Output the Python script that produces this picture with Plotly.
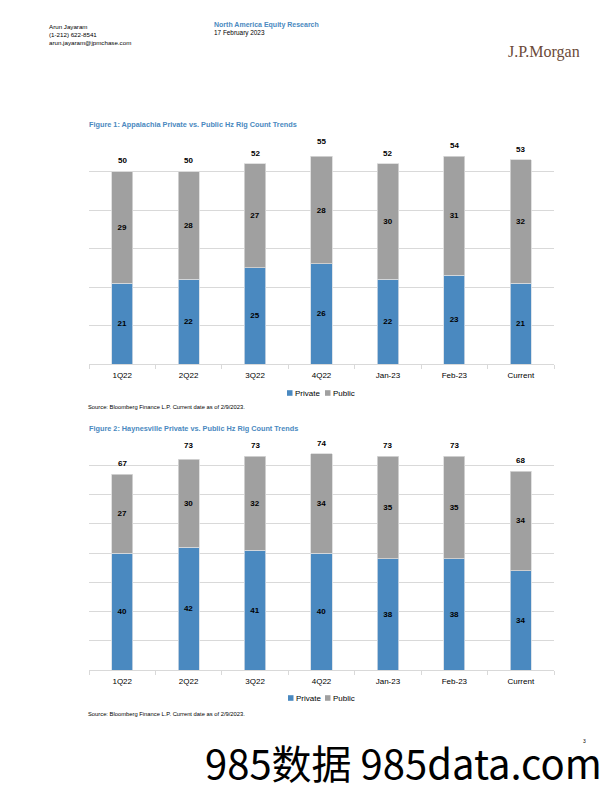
import plotly.graph_objects as go

categories = ["1Q22", "2Q22", "3Q22", "4Q22", "Jan-23", "Feb-23", "Current"]

app_private = [21, 22, 25, 26, 22, 23, 21]
app_public = [29, 28, 27, 28, 30, 31, 32]
app_total = [50, 50, 52, 55, 52, 54, 53]

hay_private = [40, 42, 41, 40, 38, 38, 34]
hay_public = [27, 30, 32, 34, 35, 35, 34]
hay_total = [67, 73, 73, 74, 73, 73, 68]

BLUE = "#4A89C0"
GRAY = "#A0A0A0"
GRID = "#D9D9D9"
FONT = "Liberation Sans"
OFF = 8  # default page body margin
W, H = 612 - OFF, 792 - OFF


def py(y):
    return 1 - (y - OFF) / H


def pxx(x):
    return (x - OFF) / W


fig = go.Figure()


def add_panel(priv, pub, tot, xa, ya):
    for vals, name, col, lc in ((priv, "Private", BLUE, "#D5DDE6"), (pub, "Public", GRAY, "#DADADA")):
        fig.add_trace(go.Bar(
            x=categories, y=vals, name=name, xaxis=xa, yaxis=ya, showlegend=False,
            marker=dict(color=col, line=dict(color=lc, width=0.8)),
            width=0.32, text=vals, texttemplate="<b>%{text}</b>", textposition="inside",
            insidetextanchor="middle", textangle=0,
            textfont=dict(family=FONT, size=8, color="black"), hoverinfo="skip"))
    for c, v in zip(categories, tot):
        fig.add_annotation(x=c, y=v, xref=xa, yref=ya, text=f"<b>{v}</b>", showarrow=False,
                           yanchor="bottom", yshift=4,
                           font=dict(family=FONT, size=8, color="black"))


add_panel(app_private, app_public, app_total, "x", "y")
add_panel(hay_private, hay_public, hay_total, "x2", "y2")

xdom = [pxx(89), pxx(554)]
axis_x = dict(domain=xdom, showline=True, linecolor=GRID, linewidth=1, ticks="outside",
              tickson="boundaries", ticklen=4, tickcolor=GRID, showgrid=False,
              ticklabelstandoff=3,
              tickfont=dict(family=FONT, size=8, color="black"), fixedrange=True)
axis_y = dict(showticklabels=False, showgrid=True, gridcolor=GRID, gridwidth=1,
              zeroline=False, dtick=10, showline=False, ticks="", fixedrange=True)

fig.update_layout(
    width=W, height=H, margin=dict(l=0, r=0, t=0, b=0),
    paper_bgcolor="white", plot_bgcolor="white", barmode="stack",
    xaxis=dict(**axis_x, anchor="y"),
    yaxis=dict(**axis_y, domain=[py(364), py(133)], range=[0, 60], anchor="x"),
    xaxis2=dict(**axis_x, anchor="y2"),
    yaxis2=dict(**axis_y, domain=[py(670), py(436)], range=[0, 80], anchor="x2"),
    showlegend=False,
)


def note(text, x, y, size, color="black", bold=False, family=FONT, xanchor="left"):
    t = f"<b>{text}</b>" if bold else text
    fig.add_annotation(text=t, x=pxx(x), y=py(y), xref="paper", yref="paper",
                       xanchor=xanchor, yanchor="middle", showarrow=False,
                       font=dict(family=family, size=size, color=color))


def legend_item(x, y, color, label):
    fig.add_shape(type="rect", xref="paper", yref="paper",
                  x0=pxx(x), x1=pxx(x + 5.5), y0=py(y + 2.8), y1=py(y - 2.8),
                  fillcolor=color, line=dict(width=0))
    note(label, x + 6, y, 8)


legend_item(287, 393, BLUE, "Private")
legend_item(325, 393, GRAY, "Public")
legend_item(288, 698, BLUE, "Private")
legend_item(325, 698, GRAY, "Public")

HBLUE = "#4A89C0"
note("Arun Jayaram", 47, 26, 6.2)
note("(1-212) 622-8541", 47, 34, 6.2)
note("arun.jayaram@jpmchase.com", 47, 42, 6.2)
note("North America Equity Research", 212, 25, 7, color=HBLUE, bold=True)
note("17 February 2023", 212, 33, 6.4)
note("J.P.Morgan", 506, 52, 16, color="#6B4A38", family="Liberation Serif")

note("Figure 1: Appalachia Private vs. Public Hz Rig Count Trends", 87, 124, 7.3, color=HBLUE, bold=True)
note("Source: Bloomberg Finance L.P. Current date as of 2/9/2023.", 86, 407, 5.8)
note("Figure 2: Haynesville Private vs. Public Hz Rig Count Trends", 87, 428, 7.3, color=HBLUE, bold=True)
note("Source: Bloomberg Finance L.P. Current date as of 2/9/2023.", 86, 714, 5.8)

note("985数据 985data.com", 203, 762, 40, family="Noto Sans CJK SC")
note("3", 581, 741, 5)

fig.write_html("out.html")
